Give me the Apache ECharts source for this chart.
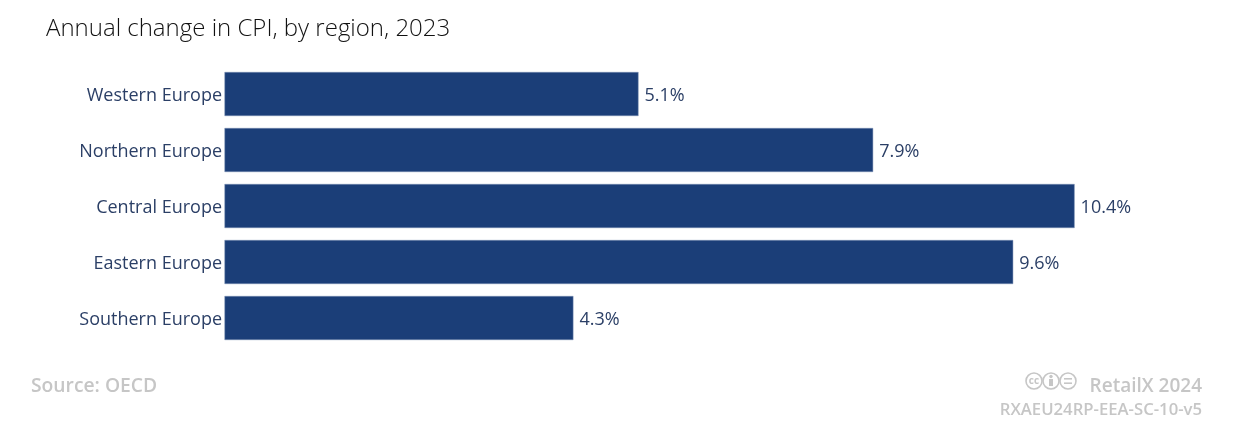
<!DOCTYPE html>
<html>
<head>
<meta charset="utf-8">
<script src="https://cdn.jsdelivr.net/npm/echarts@6/dist/echarts.min.js"></script>
<style>
  html, body { margin: 0; padding: 0; background: #fff; }
  #chart { width: 1233px; height: 435px; }
</style>
</head>
<body>
<div id="chart"></div>
<script>
const regions = ["Western Europe", "Northern Europe", "Central Europe", "Eastern Europe", "Southern Europe"];
const cpiChange = [5.055, 7.92, 10.38, 9.63, 4.26];

const font = "Open Sans";
const grey = "#c6c6c6";
const navy = "#2b3f66";

// licence badges next to the RetailX credit
const ring = cx => ({ type: "circle", shape: { cx: cx, cy: 381, r: 8 }, style: { fill: "none", stroke: grey, lineWidth: 1.6 } });
const badges = [
  ring(1034), ring(1051), ring(1068),
  { type: "text", style: { x: 1034, y: 381, text: "cc", align: "center", verticalAlign: "middle", fill: grey, font: "700 10px 'Open Sans'" } },
  { type: "circle", shape: { cx: 1051, cy: 376.5, r: 1.7 }, style: { fill: grey } },
  { type: "rect", shape: { x: 1049, y: 379, width: 4, height: 7 }, style: { fill: grey } },
  { type: "rect", shape: { x: 1064, y: 378, width: 8, height: 1.6 }, style: { fill: grey } },
  { type: "rect", shape: { x: 1064, y: 382.4, width: 8, height: 1.6 }, style: { fill: grey } }
];

const chart = echarts.init(document.getElementById("chart"));
chart.setOption({
  animation: false,
  textStyle: { fontFamily: font },
  title: [
    { text: "Annual change in CPI, by region, 2023", left: 41, top: 12, textStyle: { fontFamily: font, fontSize: 24, fontWeight: 300, color: "#111" } },
    { text: "Source: OECD", left: 26, top: 372, textStyle: { fontFamily: font, fontSize: 19.3, fontWeight: 600, color: grey } },
    { text: "RetailX 2024", right: 26, top: 372, textStyle: { fontFamily: font, fontSize: 19, fontWeight: 600, color: grey } },
    { text: "RXAEU24RP-EEA-SC-10-v5", right: 26, top: 397, textStyle: { fontFamily: font, fontSize: 16.7, fontWeight: 600, color: grey } }
  ],
  grid: { left: 224.5, top: 66, width: 1000, height: 280 },
  xAxis: { type: "value", min: 0, max: 12.21, show: false },
  yAxis: {
    type: "category",
    data: regions,
    inverse: true,
    axisLine: { show: false },
    axisTick: { show: false },
    // top-aligned with a short line box: drops the text 2px, level with the value labels
    axisLabel: { color: navy, fontSize: 18, margin: 2.5, verticalAlign: "top", lineHeight: 4 }
  },
  series: [{
    type: "bar",
    data: cpiChange,
    barWidth: 44,
    itemStyle: { color: "#1b3e78", borderColor: "#7d91b5", borderWidth: 0.5 },
    label: { show: true, position: "right", distance: 6, offset: [0, 2], color: navy, fontSize: 18, formatter: p => p.value.toFixed(1) + "%" }
  }],
  graphic: badges
});
</script>
</body>
</html>
